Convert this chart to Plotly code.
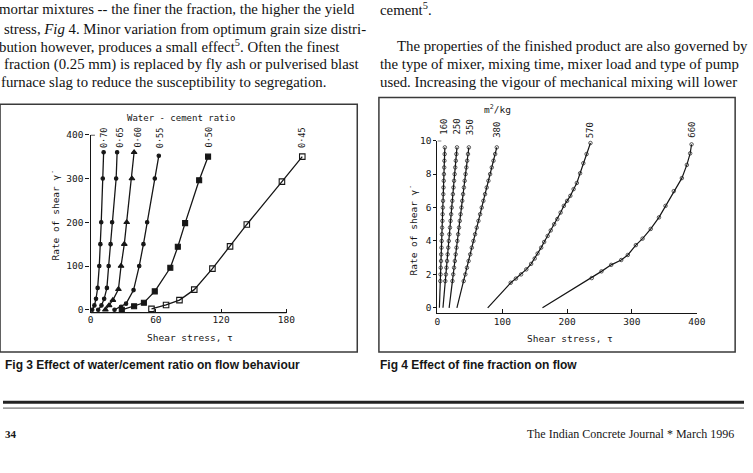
import plotly.graph_objects as go

W, H = 753, 473


def px(x):
    return x / W


def py(y):
    return 1 - y / H


# ---------------- Fig 3 : water/cement ratio ----------------
wc_labels = ["0·70", "0·65", "0·60", "0·55", "0·50", "0·45"]
tau_070 = [1.5, 3.5, 5, 6.5, 8, 9, 9.8, 11.2, 12]
gam_070 = [0, 10, 25, 50, 100, 150, 200, 300, 360]
tau_065 = [7, 10, 12.5, 15, 16.6, 18.4, 19.8, 23.5, 24.4]
gam_065 = [0, 10, 25, 50, 100, 150, 200, 300, 360]
tau_060 = [13.6, 17, 20.5, 25.6, 28, 31, 33.2, 38, 40]
gam_060 = [0, 10, 22, 47, 100, 150, 200, 300, 360]
tau_055 = [22, 28, 32.6, 39.5, 44.7, 48.6, 52, 59, 62.7]
gam_055 = [0, 7, 14, 45, 100, 150, 200, 300, 352]
tau_050 = [28.7, 40, 49, 59, 73.3, 80.2, 86.9, 99.8, 108]
gam_050 = [0, 8, 16, 42, 96, 144, 198, 296, 350]
tau_045 = [56, 69.4, 81.7, 95.3, 112, 128.2, 143.6, 175.9, 194.6]
gam_045 = [2, 11, 22, 46, 94, 145, 195, 293, 350]
fig3_xticks = [0, 60, 120, 180]
fig3_yticks = [0, 100, 200, 300, 400]

# ---------------- Fig 4 : fine fraction (m2/kg) ----------------
ff_labels = ["160", "250", "350", "380", "570", "660"]
gam_lin = [0, 1.6, 2.0, 2.4, 2.8, 3.2, 3.6, 4.0, 4.4, 4.8, 5.2, 5.6, 6.0,
           6.4, 6.8, 7.2, 7.6, 8.0, 8.4, 8.8, 9.2, 9.6]
tau_160 = [3, 4.4, 4.8, 5.1, 5.5, 5.8, 6.2, 6.5, 6.9, 7.2, 7.6, 7.9, 8.3,
           8.6, 9.0, 9.3, 9.7, 10.0, 10.4, 10.7, 11.1, 11.4]
tau_250 = [8.5, 12.1, 13.0, 13.9, 14.8, 15.7, 16.6, 17.5, 18.4, 19.3, 20.2,
           21.1, 22.0, 22.9, 23.8, 24.7, 25.6, 26.5, 27.4, 28.3, 29.2, 30.1]
tau_350 = [18, 23.1, 24.3, 25.6, 26.8, 28.1, 29.4, 30.6, 31.9, 33.2, 34.4,
           35.7, 37.0, 38.2, 39.5, 40.8, 42.0, 43.3, 44.6, 45.8, 47.1, 48.4]
tau_380 = [30, 40.5, 43, 45.5, 48, 50.5, 53, 55.5, 58, 60.6, 63.2, 65.8,
           68.3, 70.8, 73.4, 76, 78.6, 81.2, 83.8, 86.4, 89, 91.5]
tau_570 = [77.5, 113, 121, 129, 137, 144.5, 150, 154.5, 160, 164.6, 170,
           174.8, 180, 184.9, 190, 195, 200, 205, 210, 215, 220, 225, 230, 236]
gam_570 = [0, 1.5, 1.75, 2.0, 2.3, 2.63, 2.95, 3.25, 3.6, 3.94, 4.3, 4.63,
           5.0, 5.31, 5.7, 6.1, 6.4, 6.7, 7.1, 7.47, 8.05, 8.65, 9.2, 9.86]
tau_660 = [162, 238, 253, 268, 283.5, 293.6, 306, 316.4, 329, 341.7, 351.8,
           364.5, 377, 384.7, 389.8, 392]
gam_660 = [0, 1.78, 2.18, 2.57, 2.86, 3.16, 3.75, 4.14, 4.72, 5.41, 6.1,
           6.98, 7.76, 8.55, 9.24, 9.78]
fig4_xticks = [0, 100, 200, 300, 400]
fig4_yticks = [0, 2, 4, 6, 8, 10]

INK = "#161616"
MONO = "DejaVu Sans Mono"
SERIF = "Liberation Serif"

fig = go.Figure()

fig3_series = [
    (tau_070, gam_070, "circle", 3.5),
    (tau_065, gam_065, "circle", 3.5),
    (tau_060, gam_060, "triangle-up", 5),
    (tau_055, gam_055, "circle", 3.5),
    (tau_050, gam_050, "square", 5),
    (tau_045, gam_045, "square-open", 5.5),
]
for (t, g, sym, sz), name in zip(fig3_series, wc_labels):
    fig.add_trace(go.Scatter(
        x=t, y=g, mode="lines+markers", name=name, xaxis="x", yaxis="y",
        line=dict(color=INK, width=1.3),
        marker=dict(symbol=sym, size=sz, color=INK,
                    line=dict(color=INK, width=1.1)),
        showlegend=False, cliponaxis=False))

fig4_series = [
    (tau_160, gam_lin), (tau_250, gam_lin), (tau_350, gam_lin),
    (tau_380, gam_lin), (tau_570, gam_570), (tau_660, gam_660),
]
for (t, g), name in zip(fig4_series, ff_labels):
    sizes = [0] + [3.5] * (len(t) - 1)
    fig.add_trace(go.Scatter(
        x=t, y=g, mode="lines+markers", name=name, xaxis="x2", yaxis="y2",
        line=dict(color=INK, width=1.2),
        marker=dict(symbol="circle-open", size=sizes, color=INK,
                    line=dict(color=INK, width=1)),
        showlegend=False, cliponaxis=False))

tickfont = dict(family=MONO, size=9.5, color=INK)
fig.update_layout(
    width=W, height=H, margin=dict(l=0, r=0, t=0, b=0), autosize=False,
    paper_bgcolor="white", plot_bgcolor="rgba(0,0,0,0)",
    xaxis=dict(domain=[px(89), px(330)], range=[0, 218], anchor="y",
               tickvals=fig3_xticks, ticks="inside", ticklen=4,
               tickcolor=INK, tickwidth=1.2, showline=False, showgrid=False,
               zeroline=False, tickfont=tickfont),
    yaxis=dict(domain=[py(312), py(131)], range=[-6.74, 400], anchor="x",
               tickvals=fig3_yticks, ticks="outside", ticklen=4,
               tickcolor=INK, tickwidth=1.2, showline=True, linecolor=INK,
               linewidth=1.3, showgrid=False, zeroline=False,
               tickfont=tickfont),
    xaxis2=dict(domain=[px(441.5), px(705)], range=[0, 400], anchor="y2",
                tickvals=fig4_xticks, ticks="inside", ticklen=4,
                tickcolor=INK, tickwidth=1.2, showline=True, linecolor=INK,
                linewidth=1.3, showgrid=False, zeroline=False,
                tickfont=tickfont),
    yaxis2=dict(domain=[py(312), py(137)], range=[-0.294, 10], anchor="x2",
                tickvals=fig4_yticks, ticks="outside", ticklen=3,
                tickcolor=INK, tickwidth=1.2, showline=True, linecolor=INK,
                linewidth=1.3, showgrid=False, zeroline=False,
                tickfont=tickfont),
)

shapes = [
    # Fig 3 x-axis line (drawn only from 0 to 180)
    dict(type="line", xref="x", yref="y domain", x0=0, x1=180, y0=0, y1=0,
         line=dict(color=INK, width=1.3)),
    dict(type="line", xref="x", yref="y", x0=0, x1=4, y0=400, y1=400,
         line=dict(color=INK, width=1.2)),
    dict(type="line", xref="x2", yref="y2", x0=0, x1=6, y0=10, y1=10,
         line=dict(color=INK, width=1.2)),
    # figure frames
    dict(type="rect", xref="paper", yref="paper", x0=px(-3), x1=px(360),
         y0=py(352), y1=py(100), line=dict(color="#3a3a3a", width=1.5)),
    dict(type="rect", xref="paper", yref="paper", x0=px(382), x1=px(744),
         y0=py(352), y1=py(93), line=dict(color="#3a3a3a", width=1.5)),
    # page rules
    dict(type="line", xref="paper", yref="paper", x0=0, x1=1, y0=py(403),
         y1=py(403), line=dict(color="#222", width=3)),
    dict(type="line", xref="paper", yref="paper", x0=0, x1=1, y0=py(409),
         y1=py(409), line=dict(color="#555", width=1)),
]
fig.update_layout(shapes=shapes)

ann = []


def text(x, y, s, size, family, xanchor="center", angle=0, color=INK):
    ann.append(dict(x=px(x), y=py(y), xref="paper", yref="paper", text=s,
                    showarrow=False, xanchor=xanchor, yanchor="middle",
                    textangle=angle,
                    font=dict(family=family, size=size, color=color)))


# body text
body_size = 14.8
left_lines = [
    (-6, 3, "mortar mixtures -- the finer the fraction, the higher the yield"),
    (-1, 23, "stress, <i>Fig</i> 4. Minor variation from optimum grain size distri-"),
    (-6, 41, "bution however, produces a small effect<sup>5</sup>. Often the finest"),
    (-1, 59, "fraction (0.25 mm) is replaced by fly ash or pulverised blast"),
    (-4, 77, "furnace slag to reduce the susceptibility to segregation."),
]
for x, y, s in left_lines:
    text(x, y, s, body_size, SERIF, xanchor="left", color="#111")
right_lines = [
    (381, 3, "cement<sup>5</sup>."),
    (398, 41, "The properties of the finished product are also governed by"),
    (381, 59, "the type of mixer, mixing time, mixer load and type of pump"),
    (381, 77, "used. Increasing the vigour of mechanical mixing will lower"),
]
for x, y, s in right_lines:
    text(x, y, s, body_size, SERIF, xanchor="left", color="#111")

# Fig 3 chart texts
text(181, 114, "Water - cement ratio", 9, MONO)
for lab, x in zip(wc_labels, [102, 119, 137, 159, 209, 304]):
    text(x, 134, lab, 8.5, MONO, angle=-90)
text(53, 213, "Rate of shear γ̇", 9.5, MONO, angle=-90)
text(190, 337, "Shear stress, τ", 9.5, MONO)

# Fig 4 chart texts
text(503, 105, "m<sup>2</sup>/kg", 9.5, MONO)
for lab, x, y in zip(ff_labels, [448, 461, 474, 502, 596, 700],
                     [123, 123, 123, 126, 127, 126]):
    text(x, y, lab, 9, MONO, angle=-90)
text(417, 228, "Rate of shear γ̇", 9.5, MONO, angle=-90)
text(576, 338, "Shear stress, τ", 9.5, MONO)

# captions
CAP = "Liberation Sans Narrow, Arial Narrow, Liberation Sans"
text(0, 365, "<b>Fig 3 Effect of water/cement ratio on flow behaviour</b>",
     12, CAP, xanchor="left")
text(381, 365, "<b>Fig 4 Effect of fine fraction on flow</b>", 12, CAP,
     xanchor="left")

# footer
text(0, 435, "<b>34</b>", 11, SERIF, xanchor="left")
text(745, 435, "The Indian Concrete Journal * March 1996", 12, SERIF,
     xanchor="right")

fig.update_layout(annotations=ann)
fig.write_html("out.html")
